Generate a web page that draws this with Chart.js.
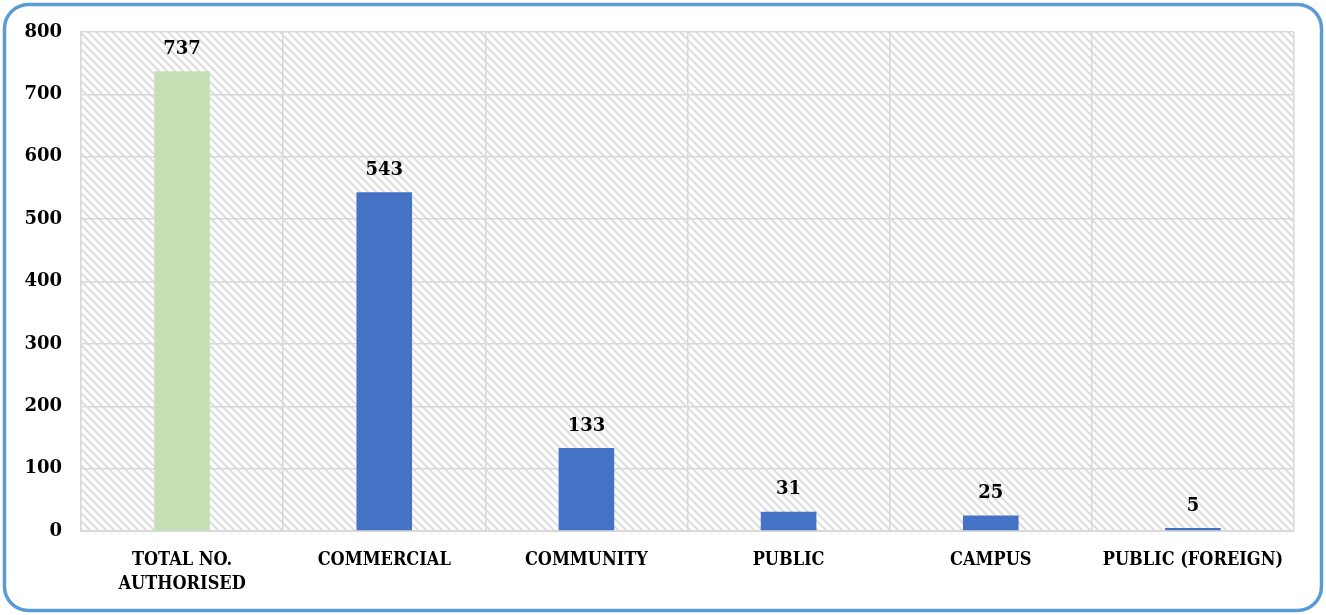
<!DOCTYPE html>
<html>
<head>
<meta charset="utf-8">
<style>
  html, body { margin: 0; padding: 0; background: #fff; }
  #wrap { position: relative; width: 1326px; height: 615px; }
</style>
<script src="https://cdn.jsdelivr.net/npm/chart.js@4.4.1/dist/chart.umd.min.js"></script>
</head>
<body>
<div id="wrap"><canvas id="c" width="1326" height="615"></canvas></div>
<script>
// Authorisations by category
const categories = [["TOTAL NO.", "AUTHORISED"], "COMMERCIAL", "COMMUNITY", "PUBLIC", "CAMPUS", "PUBLIC (FOREIGN)"];
const counts = [737, 543, 133, 31, 25, 5];
const barColors = ["#c5e0b4", "#4472c4", "#4472c4", "#4472c4", "#4472c4", "#4472c4"];
const yTicks = [0, 100, 200, 300, 400, 500, 600, 700, 800];

const NUM_FONT = '"DejaVu Serif", "Liberation Serif", serif';
const CAT_FONT = '"DejaVu Serif Condensed", "DejaVu Serif", serif';

// Diagonal hatch used as the plot-area background
function makeHatch() {
  const t = document.createElement('canvas');
  t.width = 8; t.height = 8;
  const g = t.getContext('2d');
  g.fillStyle = '#ffffff';
  g.fillRect(0, 0, 8, 8);
  g.strokeStyle = '#dcdcdc';
  g.lineWidth = 2;
  g.beginPath();
  g.moveTo(-2, -2); g.lineTo(10, 10);
  g.moveTo(-2, 6); g.lineTo(2, 10);
  g.moveTo(6, -2); g.lineTo(10, 2);
  g.stroke();
  return t;
}

const hatchBg = {
  id: 'hatchBg',
  beforeDraw(chart) {
    const { ctx, chartArea: a } = chart;
    ctx.save();
    ctx.fillStyle = ctx.createPattern(makeHatch(), 'repeat');
    ctx.fillRect(a.left, a.top, a.right - a.left, a.bottom - a.top);
    ctx.restore();
  }
};

const valueLabels = {
  id: 'valueLabels',
  afterDatasetsDraw(chart) {
    const { ctx } = chart;
    const meta = chart.getDatasetMeta(0);
    ctx.save();
    ctx.font = 'bold 18px ' + NUM_FONT;
    ctx.fillStyle = '#000';
    ctx.textAlign = 'center';
    ctx.textBaseline = 'middle';
    meta.data.forEach((bar, i) => {
      ctx.fillText(String(counts[i]), bar.x, bar.y - 22);
    });
    ctx.restore();
  }
};

const frame = {
  id: 'frame',
  afterDraw(chart) {
    const { ctx } = chart;
    ctx.save();
    ctx.strokeStyle = '#5b9bd5';
    ctx.lineWidth = 3.5;
    ctx.beginPath();
    ctx.roundRect(4.5, 4.5, 1317, 606, 24);
    ctx.stroke();
    ctx.restore();
  }
};

new Chart(document.getElementById('c'), {
  type: 'bar',
  data: {
    labels: categories,
    datasets: [{
      data: counts,
      backgroundColor: barColors,
      borderWidth: 0,
      categoryPercentage: 1,
      barPercentage: 0.275
    }]
  },
  options: {
    responsive: false,
    animation: false,
    devicePixelRatio: 1,
    layout: { padding: { left: 0, right: 32, top: 32, bottom: 0 } },
    plugins: { legend: { display: false }, tooltip: { enabled: false } },
    scales: {
      x: {
        grid: { color: '#d9d9d9', lineWidth: 1.5, drawTicks: false, offset: true },
        border: { color: '#d9d9d9', width: 2 },
        ticks: {
          color: '#000',
          font: { family: CAT_FONT, size: 18, weight: 'bold', lineHeight: 1.35 },
          padding: 17,
          maxRotation: 0,
          autoSkip: false
        },
        afterFit(s) { s.height = 84; }
      },
      y: {
        min: 0,
        max: 800,
        afterBuildTicks(s) { s.ticks = yTicks.map(v => ({ value: v })); },
        grid: { color: '#d9d9d9', lineWidth: 1.5, drawTicks: false },
        border: { color: '#d9d9d9', width: 1.5 },
        ticks: {
          color: '#000',
          font: { family: NUM_FONT, size: 18, weight: 'bold' },
          padding: 19
        },
        afterFit(s) { s.width = 81; }
      }
    }
  },
  plugins: [hatchBg, valueLabels, frame]
});
</script>
</body>
</html>
